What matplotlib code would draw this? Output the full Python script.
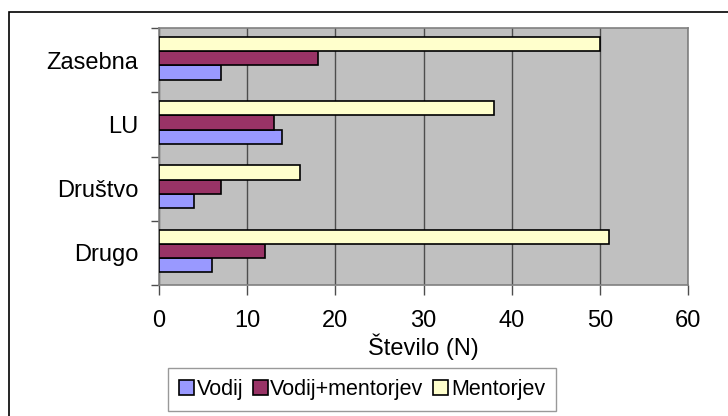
import numpy as np
import matplotlib.pyplot as plt
import matplotlib.patches as patches
from matplotlib.ticker import FixedLocator

plt.rcParams['font.family'] = ['Liberation Sans', 'DejaVu Sans']

categories = ["Drugo", "Društvo", "LU", "Zasebna"]
series = ["Vodij", "Vodij+mentorjev", "Mentorjev"]
vodij = [6, 4, 14, 7]
vodij_mentorjev = [12, 7, 13, 18]
mentorjev = [51, 16, 38, 50]
colors = ["#9999FF", "#993366", "#FFFFCC"]

fig = plt.figure(figsize=(7.28, 4.16), dpi=100)
ax = fig.add_axes([159 / 728, 1 - 285 / 416, 529 / 728, 257 / 416])

# outer chart frame
fig.patches.append(patches.Rectangle((9 / 728, -0.1), 1.1, 1 - 12 / 416 + 0.1,
                                     transform=fig.transFigure, fill=False,
                                     edgecolor="black", lw=1.2))

y = np.arange(len(categories))
h = 0.222
for k, (vals, col, name) in enumerate(zip([vodij, vodij_mentorjev, mentorjev], colors, series)):
    ax.barh(y + (k - 1) * h + 0.03, vals, height=h, color=col, edgecolor="black",
            lw=1.2, label=name, zorder=3)

ax.set_facecolor("#C0C0C0")
ax.set_xlim(0, 60)
ax.set_ylim(-0.5, 3.5)
ax.set_xticks(np.arange(0, 61, 10))
ax.xaxis.grid(True, color="#4d4d4d", lw=1, zorder=1)
ax.tick_params(axis="x", length=7, width=1, color="#4d4d4d", labelsize=17, pad=11)

ax.yaxis.set_major_locator(FixedLocator(np.arange(-0.5, 4, 1)))
ax.set_yticklabels([])
ax.yaxis.set_minor_locator(FixedLocator(y))
ax.set_yticklabels(categories, minor=True)
ax.tick_params(axis="y", which="major", length=6, width=1, color="#4d4d4d")
ax.tick_params(axis="y", which="minor", length=0, labelsize=17, pad=15)

for s in ax.spines.values():
    s.set_color("#808080")
    s.set_linewidth(1.2)

ax.set_xlabel("Število (N)", fontsize=17, labelpad=1)

fig.legend(loc="upper left", bbox_to_anchor=(168 / 728, 1 - 368 / 416), ncol=3,
           fontsize=15.5, frameon=True, fancybox=False, edgecolor="#808080",
           handlelength=0.7, handleheight=0.7, handletextpad=0.12, columnspacing=0.45,
           borderpad=0.5, borderaxespad=0)

fig.savefig("out.png", dpi=100)
